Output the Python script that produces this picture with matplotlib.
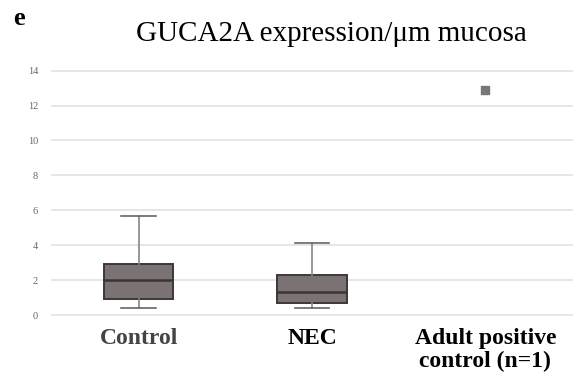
import matplotlib
matplotlib.use("Agg")
import matplotlib.pyplot as plt

# data
groups = ['Control', 'NEC', 'Adult positive\ncontrol (n=1)']
q1 = [0.9, 0.67]
med = [2.0, 1.34]
q3 = [2.92, 2.29]
whislo = [0.42, 0.38]
whishi = [5.67, 4.1]
adult_value = [12.9]
yticks = [0, 2, 4, 6, 8, 10, 12, 14]

plt.rcParams['font.family'] = ['Liberation Serif', 'DejaVu Serif']

fig = plt.figure(figsize=(5.74, 3.83), dpi=100)
ax = fig.add_axes([0.0906, 0.1775, 0.906, 0.638])

stats = []
for i in range(len(q1)):
    stats.append({'med': med[i], 'q1': q1[i], 'q3': q3[i],
                  'whislo': whislo[i], 'whishi': whishi[i], 'fliers': []})

box_face = '#7b7373'
edge = '#3d3838'
ax.bxp(stats, positions=[1, 2], widths=0.4, patch_artist=True, showfliers=False,
       boxprops=dict(facecolor=box_face, edgecolor=edge, linewidth=1.4),
       medianprops=dict(color='#3a3434', linewidth=1.8),
       whiskerprops=dict(color='#8a8585', linewidth=1.2),
       capprops=dict(color='#6a6565', linewidth=1.2),
       zorder=3)

ax.scatter([3], adult_value, marker='s', s=40, color='#7b7777', zorder=3)

ax.set_xlim(0.5, 3.5)
ax.set_ylim(0, 14)
ax.set_yticks(yticks)
ax.set_yticklabels([str(v) for v in yticks], fontsize=7.5, color='#666666')
for v in yticks:
    ax.axhline(v, color='#e2e2e2', linewidth=1.2, zorder=0, clip_on=False)

ax.set_xticks([1, 2, 3])
ax.set_xticklabels(groups, fontsize=17, fontweight='bold', linespacing=1.15)
ax.get_xticklabels()[0].set_color('#444444')
ax.tick_params(axis='both', length=0)
ax.tick_params(axis='y', pad=10)
ax.tick_params(axis='x', pad=9)
for s in ax.spines.values():
    s.set_visible(False)

fig.text(0.577, 0.893, 'GUCA2A expression/\u03bcm mucosa', ha='center', va='baseline', fontsize=21)
fig.text(0.022, 0.935, 'e', fontsize=19, fontweight='bold', va='baseline')

fig.savefig('out.png', dpi=100)
